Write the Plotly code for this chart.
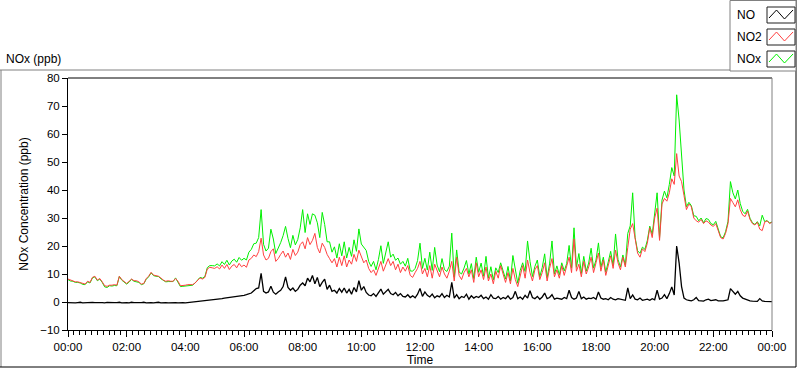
import pandas as pd
import plotly.graph_objects as go

# 5-minute samples from 00:00 to 24:00 (289 values per series)
times = pd.date_range("2000-01-01 00:00", periods=289, freq="5min")

no2 = [
    8.2, 7.8, 7.6, 7.2, 7.2, 7.0, 6.6, 6.4, 7.4, 7.0, 8.8, 9.2,
    7.8, 8.4, 7.2, 5.8, 5.6, 6.0, 6.0, 6.2, 6.0, 9.2, 8.0, 7.4,
    6.6, 7.4, 8.2, 7.6, 7.6, 7.2, 6.4, 6.6, 8.4, 9.2, 10.6, 9.6,
    9.4, 9.2, 8.6, 7.8, 7.4, 7.6, 7.4, 7.4, 8.4, 7.4, 5.8, 5.8,
    6.0, 6.2, 6.2, 6.2, 6.8, 7.8, 8.6, 8.2, 8.8, 11.8, 12.4, 12.2,
    12.0, 12.6, 11.8, 13.2, 12.0, 13.4, 11.6, 12.8, 13.4, 12.2, 13.8, 12.6,
    13.2, 12.4, 15.0, 15.6, 16.8, 16.2, 18.0, 22.8, 16.8, 15.0, 15.6, 18.0,
    19.0, 14.5, 15.5, 17.0, 18.2, 16.0, 17.5, 15.2, 18.8, 16.6, 17.8, 20.5,
    21.5, 19.0, 23.0, 20.5, 22.0, 24.5, 19.5, 17.5, 21.0, 19.5, 17.0, 15.5,
    14.0, 15.5, 12.5, 16.0, 13.0, 16.5, 12.5, 15.0, 13.5, 17.0, 14.5, 18.5,
    16.5, 14.0, 15.0, 12.0, 10.5, 11.5, 9.5, 12.0, 14.5, 11.0, 13.5, 15.5,
    13.0, 14.5, 11.5, 13.5, 10.5, 12.5, 11.0, 13.0, 9.5, 8.8, 10.5, 12.0,
    14.5, 10.0, 12.0, 9.0, 13.0, 8.5, 13.5, 11.0, 9.0, 12.5, 10.0, 8.5,
    11.0, 14.5, 7.5, 16.0, 9.5, 8.0, 10.5, 12.0, 9.0, 11.5, 7.0, 14.0,
    9.0, 11.5, 8.0, 12.5, 7.5, 10.0, 6.5, 11.0, 8.5, 13.0, 9.5, 7.0,
    10.5, 6.5, 12.0, 8.0, 5.5, 9.5, 13.0, 8.5, 15.0, 10.5, 7.5, 11.5,
    13.0, 8.0, 10.5, 14.0, 7.5, 12.0, 15.5, 9.0, 11.5, 8.5, 13.0, 9.5,
    12.5, 16.0, 10.5, 22.5, 11.0, 13.5, 9.0, 14.5, 10.0, 12.5, 16.0, 10.5,
    14.0, 17.5, 11.0, 15.0, 9.5, 13.5, 16.5, 12.0, 18.5, 14.0, 11.5, 16.0,
    12.5, 19.5, 26.0, 28.0, 22.0, 17.5, 16.0, 19.0, 18.0, 21.0, 26.5, 23.0,
    30.0, 33.5, 22.0, 35.0, 37.0, 36.0, 39.0, 44.0, 42.0, 53.0, 45.0, 43.0,
    38.0, 33.0, 35.0, 34.0, 30.0, 29.0, 28.5, 29.5, 28.0, 29.0, 28.5, 27.5,
    27.0, 28.0, 25.5, 23.0, 22.5, 24.5, 28.0, 37.0, 35.5, 34.0, 36.5, 33.0,
    31.0, 30.5, 32.5, 29.5, 28.0, 27.5, 28.5, 26.0, 25.5, 28.5, 29.0, 28.0,
    28.5,
]

no = [
    -0.2, -0.3, -0.2, -0.3, -0.2, -0.1, -0.3, -0.2, -0.3, -0.2, -0.1, -0.2,
    -0.3, -0.2, -0.2, -0.3, -0.1, -0.2, -0.3, -0.2, -0.2, -0.1, -0.3, -0.2,
    -0.2, -0.3, -0.1, -0.2, -0.3, -0.2, -0.2, -0.1, -0.3, -0.2, -0.2, -0.3,
    -0.2, -0.1, -0.3, -0.2, -0.2, -0.3, -0.2, -0.1, -0.2, -0.3, -0.2, -0.2,
    -0.3, -0.2, -0.1, -0.2, 0.0, 0.1, 0.2, 0.3, 0.3, 0.5, 0.6, 0.8,
    0.9, 1.0, 1.1, 1.2, 1.4, 1.5, 1.6, 1.8, 1.9, 2.0, 2.1, 2.3,
    2.4, 2.6, 2.8, 3.2, 4.0, 4.8, 5.0, 10.2, 3.8, 3.2, 3.6, 5.6,
    3.5, 2.8, 3.6, 4.2, 5.5, 9.0, 5.2, 4.2, 5.0, 3.8, 4.5, 6.0,
    6.8, 5.8, 8.5, 7.2, 9.5, 6.5, 8.8, 5.5, 7.0, 8.2, 4.5, 6.0,
    3.8, 4.2, 3.2, 4.8, 3.5, 5.0, 3.2, 4.5, 2.8, 5.2, 3.6, 7.6,
    4.2, 5.5, 3.4, 2.5, 2.2, 3.0, 2.0, 3.2, 4.6, 2.8, 3.8, 4.5,
    3.0, 2.6, 3.4, 2.2, 3.0, 2.0, 1.8, 2.6, 1.6, 2.2, 1.5, 2.8,
    4.8, 2.0, 3.6, 2.4, 1.8, 2.8, 1.5, 2.2, 1.8, 3.0, 1.6, 2.4,
    1.8, 7.0, 1.4, 2.6, 1.2, 2.0, 1.6, 2.8, 1.0, 2.2, 1.4, 2.0,
    1.6, 2.4, 1.2, 1.8, 1.0, 2.6, 1.4, 1.2, 2.0, 1.0, 1.6, 1.2,
    2.2, 1.0, 1.6, 3.8, 1.2, 1.8, 1.0, 2.4, 1.4, 4.0, 1.6, 1.2,
    2.0, 1.0, 1.8, 3.2, 1.2, 1.6, 2.6, 1.0, 1.4, 1.2, 1.0, 1.6,
    1.2, 4.2, 1.6, 1.0, 1.4, 3.8, 1.2, 1.8, 1.0, 1.4, 1.2, 1.6,
    1.0, 3.6, 1.4, 1.0, 1.2, 0.8, 1.6, 1.0, 0.8, 1.2, 1.0, 0.8,
    0.6, 5.0, 1.2, 2.5, 1.0, 0.8, 1.4, 0.6, 0.8, 1.0, 0.6, 1.2,
    0.8, 4.2, 1.0, 1.4, 2.6, 1.2, 3.0, 5.4, 2.5, 20.0, 14.0, 5.5,
    1.4, 0.8, 0.6, 0.4, 0.8, 1.6, 0.5, 0.4, 0.3, 0.8, 1.0, 0.5,
    0.6, 0.8, 0.4, 0.3, 0.4, 0.6, 0.8, 4.8, 3.6, 2.8, 3.8, 2.2,
    1.4, 1.0, 0.6, 0.4, 0.3, 0.2, 0.2, 1.2, 0.4, 0.2, 0.1, 0.2,
    0.1,
]

nox = [
    8.0, 7.5, 7.4, 7.0, 7.0, 6.8, 6.3, 6.2, 7.2, 6.8, 8.6, 9.0,
    7.6, 8.2, 7.0, 5.4, 5.2, 5.8, 5.7, 5.9, 5.8, 9.1, 7.8, 7.2,
    6.4, 7.1, 8.1, 7.4, 7.3, 7.0, 6.2, 6.5, 8.1, 9.0, 10.4, 9.4,
    9.2, 9.1, 8.3, 7.6, 7.2, 7.3, 7.2, 7.3, 8.6, 7.1, 5.5, 5.6,
    5.7, 6.0, 6.1, 6.0, 6.8, 7.9, 8.8, 8.5, 9.1, 12.3, 13.0, 13.0,
    12.9, 13.6, 12.9, 14.4, 13.4, 14.9, 13.2, 14.6, 15.3, 14.2, 15.9, 14.9,
    15.6, 15.0, 17.8, 18.8, 20.8, 21.0, 23.0, 33.0, 20.6, 18.2, 19.2, 26.0,
    22.5, 17.3, 19.1, 21.2, 23.7, 27.0, 22.7, 19.4, 23.8, 20.4, 22.3, 26.5,
    33.0, 24.8, 31.5, 27.7, 31.5, 31.0, 28.3, 23.0, 32.0, 27.7, 21.5, 21.5,
    17.8, 19.7, 15.7, 20.8, 16.5, 21.5, 15.7, 19.5, 16.3, 22.2, 18.1, 26.1,
    20.7, 19.5, 18.4, 14.5, 12.7, 14.5, 11.5, 15.2, 20.1, 13.8, 17.3, 21.5,
    16.0, 17.1, 14.9, 15.7, 13.5, 14.5, 12.8, 15.6, 11.1, 11.0, 12.0, 14.8,
    21.0, 12.0, 15.6, 11.4, 17.8, 11.3, 19.5, 13.2, 10.8, 15.5, 11.6, 10.9,
    12.8, 24.6, 8.9, 18.6, 10.7, 10.0, 12.1, 14.8, 10.0, 13.7, 8.4, 16.0,
    10.6, 13.9, 9.2, 16.3, 8.5, 12.6, 7.9, 12.2, 10.5, 14.0, 11.1, 8.2,
    12.7, 7.5, 16.6, 11.8, 6.7, 11.3, 14.0, 10.9, 21.8, 14.5, 9.1, 12.7,
    15.0, 9.0, 12.3, 17.2, 8.7, 13.6, 21.8, 10.0, 12.9, 9.7, 14.0, 11.1,
    13.7, 20.2, 12.1, 26.5, 12.4, 17.3, 10.2, 16.3, 11.0, 13.9, 19.2, 12.1,
    15.0, 21.1, 12.4, 16.0, 10.7, 14.3, 18.1, 13.0, 24.3, 15.2, 12.5, 16.8,
    13.1, 24.5, 27.2, 39.0, 23.0, 18.3, 17.4, 19.6, 18.8, 22.0, 27.1, 24.2,
    30.8, 39.0, 23.0, 36.4, 39.6, 37.2, 42.0, 48.0, 45.0, 74.0, 65.0, 53.0,
    40.0, 34.0, 35.6, 34.4, 30.8, 30.6, 29.0, 30.0, 28.3, 29.8, 29.5, 28.0,
    27.6, 28.8, 25.9, 23.3, 22.9, 25.1, 28.8, 43.0, 39.0, 36.8, 40.0, 35.2,
    32.4, 31.5, 33.1, 29.9, 28.3, 27.7, 28.7, 27.2, 31.0, 28.7, 29.1, 28.2,
    28.6,
]

series_names = ["NO", "NO2", "NOx"]
series_colors = ["#000000", "#FF4040", "#00F000"]
y_ticks = [-10, 0, 10, 20, 30, 40, 50, 60, 70, 80]

FONT = "Liberation Sans, Arial, sans-serif"
W, H = 800, 369
L, R, T, B = 68, 772, 78, 330


def px(x):
    return (x - L) / (R - L)


def py(y):
    return (B - y) / (B - T)


fig = go.Figure()
fig.add_trace(go.Scatter(x=times, y=nox, mode="lines", name="NOx", hoverinfo="skip",
                         line=dict(color=series_colors[2], width=1)))
fig.add_trace(go.Scatter(x=times, y=no2, mode="lines", name="NO2", hoverinfo="skip",
                         line=dict(color=series_colors[1], width=1)))
fig.add_trace(go.Scatter(x=times, y=no, mode="lines", name="NO", hoverinfo="skip",
                         line=dict(color=series_colors[0], width=1.3)))

shapes = []
annotations = []

# outer frame
shapes.append(dict(type="line", xref="paper", yref="paper", x0=px(0), x1=px(730), y0=py(70), y1=py(70),
                   line=dict(color="#808080", width=1)))
shapes.append(dict(type="line", xref="paper", yref="paper", x0=px(1), x1=px(1), y0=py(70), y1=py(367),
                   line=dict(color="#808080", width=1)))
shapes.append(dict(type="line", xref="paper", yref="paper", x0=px(0), x1=px(796), y0=py(367), y1=py(367),
                   line=dict(color="#000000", width=1)))
shapes.append(dict(type="line", xref="paper", yref="paper", x0=px(796), x1=px(796), y0=py(0), y1=py(367),
                   line=dict(color="#000000", width=1)))
# plot frame top (black) and right (grey)
shapes.append(dict(type="line", xref="paper", yref="paper", x0=0, x1=1, y0=1, y1=1,
                   line=dict(color="#000000", width=1)))
shapes.append(dict(type="line", xref="paper", yref="paper", x0=1, x1=1, y0=0, y1=1,
                   line=dict(color="#808080", width=1)))

# legend box
shapes.append(dict(type="rect", xref="paper", yref="paper", x0=px(730), x1=px(796), y0=py(71), y1=py(0.5),
                   line=dict(color="#808080", width=1), fillcolor="white"))
centers = [15, 37, 59]
for name, color, cy in zip(series_names, series_colors, centers):
    annotations.append(dict(text=name, xref="paper", yref="paper", x=px(735), y=py(cy),
                            xanchor="left", yanchor="middle", showarrow=False,
                            font=dict(family=FONT, size=12, color="#000")))
    shapes.append(dict(type="rect", xref="paper", yref="paper", x0=px(767), x1=px(795),
                       y0=py(cy + 8), y1=py(cy - 8),
                       line=dict(color="#202020", width=1), fillcolor="white"))
    pts = [(769, cy + 3), (776.5, cy - 5), (784.5, cy + 4), (793, cy - 5)]
    for (xa, ya), (xb, yb) in zip(pts[:-1], pts[1:]):
        shapes.append(dict(type="line", xref="paper", yref="paper", x0=px(xa), x1=px(xb),
                           y0=py(ya), y1=py(yb), line=dict(color=color, width=1)))

# chart label
annotations.append(dict(text="NOx (ppb)", xref="paper", yref="paper", x=px(4), y=py(59),
                        xanchor="left", yanchor="middle", showarrow=False,
                        font=dict(family=FONT, size=12, color="#000")))

fig.update_layout(
    width=W, height=H,
    margin=dict(l=L, r=W - R, t=T, b=H - B, pad=0, autoexpand=False),
    paper_bgcolor="white", plot_bgcolor="white",
    showlegend=False,
    hovermode=False,
    font=dict(family=FONT, size=11, color="#000"),
    shapes=shapes, annotations=annotations,
    xaxis=dict(
        automargin=False,
        range=[times[0], times[-1]],
        tickformat="%H:%M", dtick=2 * 3600 * 1000, tick0=times[0],
        ticks="outside", ticklen=6, tickcolor="#000", tickwidth=1,
        minor=dict(dtick=12 * 60 * 1000, ticks="outside", ticklen=4, tickcolor="#000", showgrid=False),
        showgrid=False, zeroline=False, showline=True, linecolor="#000", linewidth=1,
        tickfont=dict(family=FONT, size=11.5, color="#000"),
        title=dict(text="Time", font=dict(family=FONT, size=12, color="#000"), standoff=1),
    ),
    yaxis=dict(
        automargin=False,
        range=[-10, 80], tickvals=y_ticks,
        ticks="outside", ticklen=5, tickcolor="#000", tickwidth=1,
        showgrid=False, zeroline=False, showline=True, linecolor="#000", linewidth=1,
        tickfont=dict(family=FONT, size=11.5, color="#000"),
        title=dict(text="NOx Concentration (ppb)", font=dict(family=FONT, size=12, color="#000"), standoff=8),
    ),
)

fig.write_html(
    "out.html",
    config={"displayModeBar": False, "staticPlot": True},
    post_script="document.body.style.margin='0';document.body.style.padding='0';"
                "document.body.style.overflow='hidden';",
)
